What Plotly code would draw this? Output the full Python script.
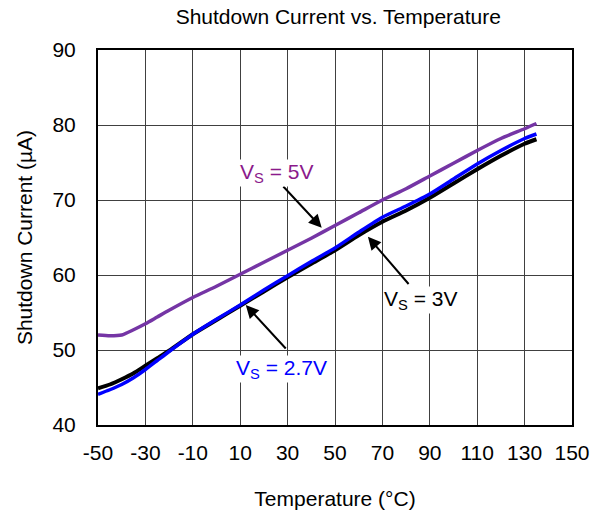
import plotly.graph_objects as go

temp = [-50, -45, -40, -35, -30, -25, -20, -10, 0, 10, 20, 30, 40, 50, 60, 70, 80, 90, 100, 110, 120, 130, 135]
i_5v = [52.0, 51.9, 52.0, 52.7, 53.5, 54.4, 55.3, 57.0, 58.5, 60.1, 61.7, 63.3, 64.9, 66.6, 68.3, 70.0, 71.5, 73.2, 74.9, 76.6, 78.2, 79.5, 80.2]
i_3v = [44.9, 45.4, 46.1, 46.9, 47.9, 48.9, 49.9, 52.1, 54.0, 55.9, 57.8, 59.7, 61.5, 63.3, 65.3, 67.1, 68.6, 70.3, 72.2, 74.1, 75.9, 77.5, 78.1]
i_27v = [44.1, 44.7, 45.4, 46.3, 47.4, 48.6, 49.8, 52.1, 54.1, 56.0, 58.0, 59.9, 61.8, 63.6, 65.7, 67.7, 69.2, 70.8, 72.8, 74.8, 76.6, 78.2, 78.8]

x_ticks = [-50, -30, -10, 10, 30, 50, 70, 90, 110, 130, 150]
y_ticks = [40, 50, 60, 70, 80, 90]

FONT = "Arial, Liberation Sans, sans-serif"
FS = 21

fig = go.Figure()
fig.add_trace(go.Scatter(x=temp, y=i_3v, mode="lines", line=dict(color="black", width=4, shape="spline", smoothing=0.6), name="VS=3V"))
fig.add_trace(go.Scatter(x=temp, y=i_27v, mode="lines", line=dict(color="#0000FF", width=3.5, shape="spline", smoothing=0.6), name="VS=2.7V"))
fig.add_trace(go.Scatter(x=temp, y=i_5v, mode="lines", line=dict(color="#7535A5", width=3.5, shape="spline", smoothing=0.6), name="VS=5V"))

arrows = [
    (44.4, 66.3, 27.6, 72.0),
    (63.9, 65.1, 81.6, 58.6),
    (12.35, 56.0, 29.8, 50.0),
]
for xt, yt, xa, ya in arrows:
    fig.add_annotation(x=xt, y=yt, ax=xa, ay=ya, axref="x", ayref="y", xref="x", yref="y",
                       text="", showarrow=True, arrowhead=2, arrowsize=1.3, arrowwidth=2, arrowcolor="black")

labels = [
    (25.5, 73.6, "V<sub>S</sub> = 5V", "#8B1A8B"),
    (86.0, 56.7, "V<sub>S</sub> = 3V", "black"),
    (27.6, 47.5, "V<sub>S</sub> = 2.7V", "#0000FF"),
]
for xl, yl, txt, col in labels:
    fig.add_annotation(x=xl, y=yl, xref="x", yref="y", text=txt, showarrow=False,
                       font=dict(family=FONT, size=FS, color=col), bgcolor="white", borderpad=0)

fig.update_layout(
    width=602, height=519,
    margin=dict(l=98, r=28, t=50, b=94),
    paper_bgcolor="white", plot_bgcolor="white",
    showlegend=False,
    title=dict(text="Shutdown Current vs. Temperature", x=0.562, xanchor="center", y=0.968, yanchor="middle",
               font=dict(family=FONT, size=FS, color="black")),
    xaxis=dict(range=[-50, 150], tickvals=x_ticks, ticktext=[str(v) for v in x_ticks],
               showgrid=True, gridcolor="#404040", gridwidth=1,
               showline=True, linecolor="black", linewidth=2, mirror=True,
               ticks="", ticklabelstandoff=8, zeroline=False,
               tickfont=dict(family=FONT, size=FS, color="black"),
               title=dict(text="Temperature (°C)", font=dict(family=FONT, size=FS, color="black"), standoff=28)),
    yaxis=dict(range=[40, 90], tickvals=y_ticks, ticktext=[str(v) for v in y_ticks],
               showgrid=True, gridcolor="#404040", gridwidth=1,
               showline=True, linecolor="black", linewidth=2, mirror=True,
               ticks="", ticklabelstandoff=16, zeroline=False,
               tickfont=dict(family=FONT, size=FS, color="black"),
               title=dict(text="Shutdown Current (µA)", font=dict(family=FONT, size=FS, color="black"), standoff=14)),
)

fig.write_html("out.html")
